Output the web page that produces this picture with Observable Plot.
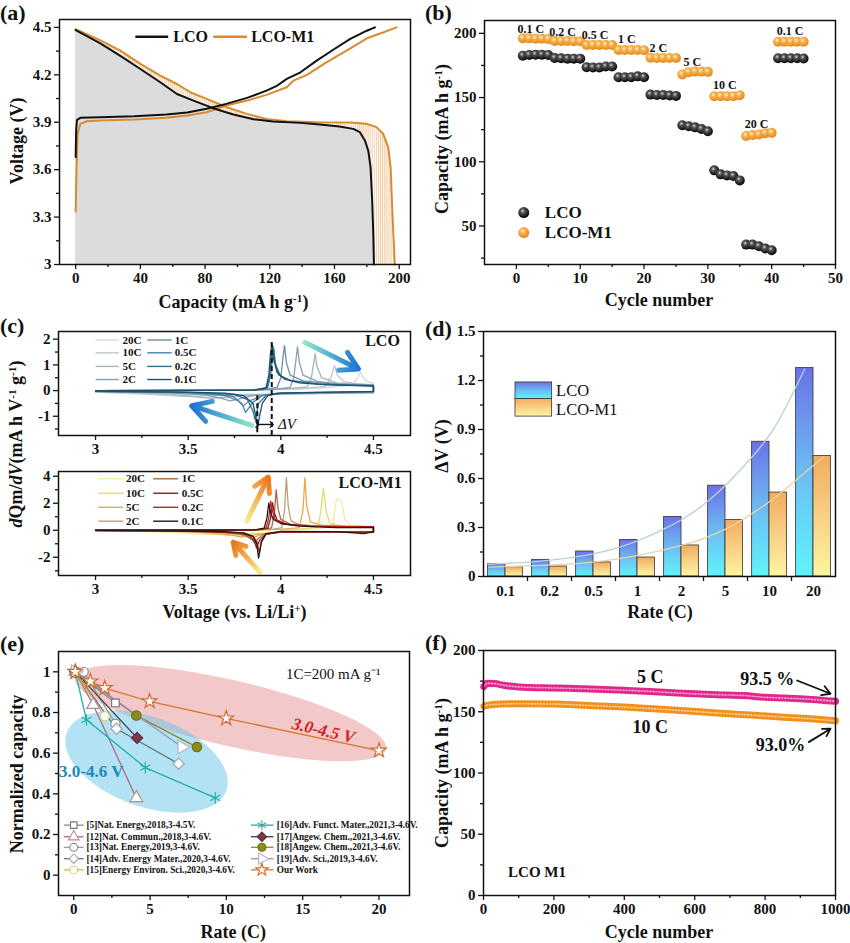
<!DOCTYPE html>
<html><head><meta charset="utf-8">
<script src="https://cdn.jsdelivr.net/npm/d3@7"></script>
<script src="https://cdn.jsdelivr.net/npm/@observablehq/plot@0.6"></script>
<style>
body{margin:0;background:#fff;}
#root{position:relative;width:850px;height:943px;overflow:hidden;font-family:"Liberation Serif","Times New Roman",serif;color:#111;}
.p{position:absolute;}
.p svg{background:transparent !important;overflow:visible;}
.lab{position:absolute;font-weight:bold;font-size:18px;white-space:nowrap;transform:translate(-50%,-50%);line-height:1;}
.ylab{transform:translate(-50%,-50%) rotate(-90deg);}
.let{position:absolute;font-weight:bold;font-size:22px;line-height:1;}
sup{font-size:0.62em;vertical-align:0.55em;line-height:0;}
</style></head><body>
<svg width="0" height="0" style="position:absolute">
<defs>
<linearGradient id="gBlue" x1="0" y1="0" x2="0" y2="1"><stop offset="0" stop-color="#6b72e6"/><stop offset="0.55" stop-color="#6cc2f4"/><stop offset="1" stop-color="#5ef4fb"/></linearGradient>
<linearGradient id="gOrange" x1="0" y1="0" x2="0" y2="1"><stop offset="0" stop-color="#f3ab5e"/><stop offset="0.5" stop-color="#f8d085"/><stop offset="1" stop-color="#fff6a0"/></linearGradient>
<radialGradient id="ballK" cx="0.4" cy="0.35" r="0.65"><stop offset="0" stop-color="#d8d8d8"/><stop offset="0.3" stop-color="#555"/><stop offset="1" stop-color="#050505"/></radialGradient>
<radialGradient id="ballO" cx="0.4" cy="0.35" r="0.65"><stop offset="0" stop-color="#fff1cc"/><stop offset="0.35" stop-color="#f8b250"/><stop offset="1" stop-color="#e4861a"/></radialGradient>
<pattern id="hatchA" width="2.1" height="8" patternUnits="userSpaceOnUse"><line x1="0.6" y1="0" x2="0.6" y2="8" stroke="#e1a457" stroke-width="0.7"/></pattern>
<linearGradient id="arrB1" x1="0" y1="0" x2="1" y2="0"><stop offset="0" stop-color="#8ae8c8"/><stop offset="1" stop-color="#1f72d8"/></linearGradient>
<linearGradient id="arrB2" x1="1" y1="0" x2="0" y2="0"><stop offset="0" stop-color="#8ae8c8"/><stop offset="1" stop-color="#1f72d8"/></linearGradient>
<linearGradient id="arrO1" x1="0" y1="1" x2="1" y2="0"><stop offset="0" stop-color="#f8ec90"/><stop offset="1" stop-color="#ee7418"/></linearGradient>
<linearGradient id="arrO2" x1="1" y1="1" x2="0" y2="0"><stop offset="0" stop-color="#f8ec90"/><stop offset="1" stop-color="#ee7418"/></linearGradient>
</defs></svg>
<div id="root"></div>
<script>
// ================= DATA =================
// (a) charge / discharge profiles [capacity, voltage]
const aLcoCharge = [[0,3.68],[0.3,3.85],[0.8,3.915],[2.9,3.928],[15,3.932],[36,3.938],[56,3.949],[69,3.961],[81,3.985],[93,4.016],[106,4.054],[118,4.10],[124,4.128],[130.5,4.174],[139,4.216],[149,4.29],[159,4.357],[169.5,4.426],[180,4.479],[185,4.5]];
const aLcoDischarge = [[0,4.483],[15,4.40],[27.6,4.32],[40,4.237],[52.3,4.153],[62.6,4.079],[72.8,4.037],[85,3.989],[97.5,3.949],[110,3.919],[122,3.905],[139,3.896],[151,3.886],[163,3.873],[171.6,3.858],[175.7,3.837],[178.8,3.785],[180.9,3.72],[182.3,3.616],[183.3,3.406],[184,3.195],[184.4,3.0]];
const aM1Charge = [[0,3.336],[0.5,3.6],[1.2,3.827],[2.9,3.89],[7,3.907],[15,3.911],[36,3.917],[56,3.928],[69,3.942],[81,3.963],[93,4.006],[106,4.037],[118,4.073],[130.5,4.121],[134.6,4.163],[143,4.20],[155,4.279],[167.5,4.353],[180,4.431],[190,4.468],[198.4,4.5]];
const aM1Discharge = [[0,4.489],[15,4.42],[27.6,4.353],[40,4.269],[52.3,4.195],[62.6,4.142],[70.8,4.09],[81,4.048],[93.4,3.995],[105.8,3.953],[118,3.921],[130.5,3.907],[149,3.9],[169.5,3.898],[179.8,3.89],[186,3.869],[190.1,3.827],[193.2,3.743],[194.7,3.616],[195.9,3.3],[197.3,3.0]];

// (b) rate capability
const bCycles = d3.range(1, 46);
const bLco = [182.6,183.2,183.4,183.4,183.2, 180.8,180.6,180.3,180.3,180.3, 173.6,173.4,173.4,174.2,174.2, 165.8,165.8,165.8,166.5,165.8, 152.3,152.0,152.0,151.6,151.3, 128.5,127.6,126.8,125.5,123.7, 93.3,90.2,89.4,88.9,85.5, 35.5,35.5,34.2,32.4,31.1, 180.6,180.6,180.6,180.6,180.4];
const bM1 = [196.1,196.1,195.8,195.8,195.6, 194.0,194.0,194.0,193.8,193.8, 190.9,190.9,190.9,190.9,190.9, 187.0,187.0,187.0,187.0,186.8, 181.0,180.8,180.8,180.8,180.8, 168.0,169.8,170.2,170.2,170.0, 151.0,151.0,151.0,151.0,151.8, 120.0,120.8,121.2,122.3,122.5, 193.5,193.5,193.5,193.5,193.4];
const bRateLabels = ["0.1 C","0.2 C","0.5 C","1 C","2 C","5 C","10 C","20 C","0.1 C"];
const bRateLabelAt = [[2.25,203.6],[7.24,200.8],[12.33,198.4],[17.3,195.1],[22.25,188.3],[27.56,177.2],[32.65,159.9],[37.64,129],[42.9,201.6]];

// (c) dQ/dV curves [voltage, dQm/dV]  (charge branch then discharge branch)
const cRates = ["20C","10C","5C","2C","1C","0.5C","0.2C","0.1C"];
const cLco20 = [[3.0,0],[3.9,0.03],[4.2,0.09],[4.38,0.2],[4.41,0.45],[4.43,0.72],[4.445,0.5],[4.47,0.33],[4.5,0.28],[4.5,-0.1],[4.2,-0.12],[3.9,-0.14],[3.6,-0.16],[3.3,-0.15],[3.15,-0.12],[3.0,-0.06]];
const cLco10 = [[3.0,0],[3.8,0.02],[4.1,0.07],[4.24,0.16],[4.27,0.5],[4.29,0.97],[4.305,0.6],[4.34,0.35],[4.42,0.26],[4.5,0.22],[4.5,-0.09],[4.2,-0.12],[3.9,-0.15],[3.7,-0.19],[3.55,-0.22],[3.465,-0.23],[3.35,-0.18],[3.2,-0.1],[3.0,-0.05]];
const cLco5 = [[3.0,0],[3.7,0.01],[4.0,0.05],[4.14,0.14],[4.165,0.5],[4.178,1.1],[4.185,1.45],[4.195,0.95],[4.22,0.5],[4.3,0.3],[4.5,0.22],[4.5,-0.08],[4.2,-0.11],[3.95,-0.14],[3.8,-0.2],[3.68,-0.27],[3.63,-0.3],[3.55,-0.25],[3.4,-0.14],[3.2,-0.07],[3.0,-0.04]];
const cLco2 = [[3.0,0],[3.6,0.01],[3.95,0.04],[4.05,0.12],[4.07,0.5],[4.082,1.2],[4.09,1.7],[4.1,1.1],[4.12,0.6],[4.2,0.35],[4.35,0.24],[4.5,0.2],[4.5,-0.07],[4.2,-0.1],[4.0,-0.13],[3.85,-0.2],[3.77,-0.33],[3.725,-0.4],[3.69,-0.32],[3.6,-0.18],[3.4,-0.09],[3.0,-0.04]];
const cLco1 = [[3.0,0],[3.6,0.01],[3.9,0.03],[3.98,0.12],[4.0,0.5],[4.012,1.3],[4.02,1.75],[4.03,1.1],[4.05,0.6],[4.12,0.38],[4.3,0.24],[4.5,0.2],[4.5,-0.06],[4.2,-0.09],[4.0,-0.12],[3.9,-0.2],[3.83,-0.4],[3.796,-0.6],[3.77,-0.4],[3.7,-0.2],[3.5,-0.09],[3.2,-0.05],[3.0,-0.03]];
const cLco05 = [[3.0,0],[3.5,0.01],[3.87,0.03],[3.93,0.12],[3.945,0.6],[3.955,1.3],[3.962,1.65],[3.972,1.0],[4.0,0.55],[4.06,0.38],[4.2,0.26],[4.5,0.19],[4.5,-0.05],[4.2,-0.08],[4.0,-0.11],[3.9,-0.2],[3.85,-0.45],[3.81,-0.85],[3.79,-0.5],[3.74,-0.22],[3.6,-0.1],[3.3,-0.05],[3.0,-0.03]];
const cLco02 = [[3.0,0],[3.5,0.01],[3.86,0.02],[3.925,0.1],[3.94,0.6],[3.95,1.4],[3.957,1.75],[3.967,1.1],[3.99,0.6],[4.05,0.4],[4.2,0.25],[4.5,0.18],[4.5,-0.04],[4.2,-0.07],[4.0,-0.1],[3.92,-0.2],[3.88,-0.5],[3.862,-1.15],[3.85,-0.8],[3.82,-0.35],[3.75,-0.15],[3.5,-0.07],[3.0,-0.03]];
const cLco01 = [[3.0,0],[3.5,0.01],[3.85,0.02],[3.92,0.1],[3.935,0.6],[3.945,1.5],[3.952,1.8],[3.962,1.2],[3.98,0.7],[4.02,0.45],[4.1,0.3],[4.25,0.22],[4.5,0.17],[4.5,-0.03],[4.3,-0.06],[4.1,-0.08],[3.98,-0.1],[3.93,-0.2],[3.9,-0.5],[3.885,-1.0],[3.875,-1.45],[3.865,-1.0],[3.85,-0.5],[3.8,-0.2],[3.7,-0.1],[3.5,-0.06],[3.0,-0.02]];
const cM120 = [[3.0,0],[3.9,0.04],[4.2,0.1],[4.28,0.3],[4.292,1.5],[4.3,2.3],[4.32,2.25],[4.33,2.1],[4.345,0.8],[4.37,0.4],[4.45,0.3],[4.5,0.28],[4.5,-0.18],[4.3,-0.16],[4.0,-0.17],[3.8,-0.24],[3.65,-0.3],[3.572,-0.3],[3.48,-0.22],[3.3,-0.1],[3.0,-0.03]];
const cM110 = [[3.0,0],[3.8,0.03],[4.1,0.08],[4.2,0.22],[4.215,1.3],[4.23,3.1],[4.245,1.4],[4.265,0.5],[4.33,0.32],[4.5,0.27],[4.5,-0.17],[4.3,-0.15],[4.0,-0.16],[3.85,-0.27],[3.76,-0.36],[3.716,-0.38],[3.65,-0.3],[3.55,-0.18],[3.35,-0.07],[3.0,-0.02]];
const cM15 = [[3.0,0],[3.7,0.02],[4.0,0.06],[4.1,0.2],[4.12,1.5],[4.13,3.9],[4.14,1.8],[4.16,0.6],[4.22,0.38],[4.35,0.28],[4.5,0.26],[4.5,-0.16],[4.3,-0.14],[4.0,-0.15],[3.88,-0.3],[3.81,-0.45],[3.784,-0.5],[3.75,-0.4],[3.68,-0.25],[3.55,-0.12],[3.3,-0.05],[3.0,-0.02]];
const cM12 = [[3.0,0],[3.6,0.01],[3.95,0.05],[4.005,0.2],[4.02,1.5],[4.03,3.9],[4.04,1.8],[4.055,0.7],[4.1,0.4],[4.25,0.28],[4.5,0.26],[4.5,-0.15],[4.3,-0.13],[4.0,-0.14],[3.9,-0.28],[3.86,-0.5],[3.84,-0.7],[3.82,-0.5],[3.77,-0.28],[3.65,-0.14],[3.4,-0.06],[3.0,-0.02]];
const cM11 = [[3.0,0],[3.6,0.01],[3.9,0.04],[3.95,0.18],[3.965,1.2],[3.975,3.0],[3.985,1.6],[4.0,0.8],[4.05,0.45],[4.2,0.3],[4.5,0.26],[4.5,-0.14],[4.3,-0.12],[4.0,-0.13],[3.91,-0.3],[3.875,-0.65],[3.859,-0.95],[3.84,-0.6],[3.8,-0.32],[3.7,-0.16],[3.5,-0.08],[3.0,-0.02]];
const cM105 = [[3.0,0],[3.5,0.01],[3.88,0.04],[3.93,0.15],[3.945,0.9],[3.955,2.05],[3.965,1.3],[3.98,0.75],[4.03,0.45],[4.15,0.3],[4.5,0.25],[4.5,-0.13],[4.3,-0.11],[4.0,-0.12],[3.92,-0.3],[3.885,-0.75],[3.869,-1.3],[3.855,-0.75],[3.83,-0.4],[3.78,-0.22],[3.6,-0.1],[3.3,-0.05],[3.0,-0.02]];
const cM102 = [[3.0,0],[3.5,0.01],[3.87,0.03],[3.92,0.15],[3.935,0.9],[3.945,2.15],[3.955,1.4],[3.97,0.8],[4.02,0.45],[4.15,0.28],[4.5,0.24],[4.5,-0.12],[4.3,-0.1],[4.0,-0.1],[3.92,-0.3],[3.895,-0.8],[3.884,-1.7],[3.872,-0.9],[3.85,-0.45],[3.8,-0.22],[3.65,-0.1],[3.3,-0.04],[3.0,-0.01]];
const cM101 = [[3.0,0],[3.5,0.01],[3.86,0.03],[3.91,0.15],[3.925,0.9],[3.935,2.0],[3.945,1.3],[3.96,0.8],[4.0,0.5],[4.1,0.3],[4.3,0.2],[4.5,0.22],[4.5,-0.1],[4.45,-0.25],[4.3,-0.1],[4.0,-0.08],[3.92,-0.25],[3.895,-0.9],[3.88,-2.07],[3.87,-1.0],[3.85,-0.45],[3.8,-0.2],[3.7,-0.1],[3.4,-0.04],[3.0,-0.01]];
const cLcoCurves = [cLco20,cLco10,cLco5,cLco2,cLco1,cLco05,cLco02,cLco01];
const cM1Curves = [cM120,cM110,cM15,cM12,cM11,cM105,cM102,cM101];

// (d) voltage hysteresis
const dRates = ["0.1","0.2","0.5","1","2","5","10","20"];
const dLco = [0.077,0.102,0.153,0.224,0.365,0.556,0.825,1.276];
const dM1 = [0.057,0.061,0.086,0.116,0.19,0.346,0.514,0.738];
const dLcoFit = [[-0.4,0.075],[0.6,0.09],[1.6,0.12],[2.6,0.18],[3.6,0.29],[4.6,0.46],[5.6,0.73],[6.2,0.95],[6.8,1.27]];
const dM1Fit = [[-0.38,0.057],[1,0.07],[2,0.088],[2.99,0.128],[4,0.19],[5,0.29],[5.98,0.455],[6.6,0.59],[7.23,0.73]];

// (e) literature comparison [rate, normalized capacity]
const e5 = [[0.1,1.0],[2.73,0.847]];
const e12 = [[0.1,1.0],[1.27,0.838],[4.1,0.38]];
const e13 = [[0.1,1.0],[0.65,1.0],[2.73,0.745]];
const e14 = [[0.1,1.0],[2.8,0.72],[6.87,0.548]];
const e15 = [[0.1,1.0],[2.03,0.781]];
const e16 = [[0.1,1.0],[0.83,0.764],[4.69,0.529],[9.27,0.38]];
const e17 = [[0.1,1.0],[4.15,0.675]];
const e18 = [[0.1,1.0],[4.1,0.785],[8.07,0.63]];
const e19 = [[0.1,1.0],[7.09,0.63]];
const eOur = [[0.1,1.0],[1.09,0.953],[2.03,0.92],[4.97,0.855],[9.99,0.771],[20,0.613]];
const eNames = ["[5]Nat. Energy,2018,3-4.5V.","[12]Nat. Commun.,2018,3-4.6V.","[13]Nat. Energy,2019,3-4.6V.","[14]Adv. Energy Mater.,2020,3-4.6V.","[15]Energy Environ. Sci.,2020,3-4.6V.","[16]Adv. Funct. Mater.,2021,3-4.6V.","[17]Angew. Chem.,2021,3-4.6V.","[18]Angew. Chem.,2021,3-4.6V.","[19]Adv. Sci.,2019,3-4.6V.","Our Work"];

// (f) long cycling [cycle, capacity]
const f5C = [[1,170.5],[10,173.2],[30,173],[60,171.5],[100,170.3],[200,169.4],[283,168.8],[400,167.5],[473,166.6],[550,165.3],[663,163.9],[740,163.2],[800,161.8],[852,161.2],[920,160.3],[1000,158.5]];
const f10C = [[1,154.5],[20,155.8],[94,156.5],[200,156.3],[283,155.3],[400,153.8],[473,152.6],[550,151.2],[663,149],[760,147.3],[852,145.6],[920,144.4],[1000,142.6]];

// ================= HELPERS =================
const root = document.getElementById("root");
function place(node, left, top) { const d = document.createElement("div"); d.className = "p"; d.style.left = left + "px"; d.style.top = top + "px"; d.appendChild(node); root.appendChild(d); }
const STYLE = "font-family:'Liberation Serif','Times New Roman',serif;font-size:15px;font-weight:bold;color:#111;background:transparent;overflow:visible;";
const P = {x: d => d[0], y: d => d[1]};
const fmt = d => String(d);
function axes(o) {
  const m = [];
  if (o.x) m.push(Plot.axisX({ticks: o.x, tickSize: o.xSize ?? 5, tickPadding: o.xPad ?? 3, tickFormat: o.xf ?? fmt, label: null, strokeWidth: 1.3}));
  if (o.xm) m.push(Plot.axisX({ticks: o.xm, tickSize: o.xmSize ?? 3, tickPadding: 0, tickFormat: () => "", label: null, strokeWidth: 1.3}));
  if (o.y) m.push(Plot.axisY({ticks: o.y, tickSize: 5, tickPadding: 3, tickFormat: o.yf ?? fmt, label: null, strokeWidth: 1.3}));
  if (o.ym) m.push(Plot.axisY({ticks: o.ym, tickSize: 3, tickPadding: 0, tickFormat: () => "", label: null, strokeWidth: 1.3}));
  return m;
}
const frame = () => Plot.frame({stroke: "#111", strokeWidth: 1.5});

// ================= (a) =================
const ORA = "#d98b2f";
const aLegend = [{label: "LCO", color: "#111", x1: 36.9, x2: 57.2, tx: 60.3, y: 4.441}, {label: "LCO-M1", color: ORA, x1: 85, x2: 105.9, tx: 108.5, y: 4.441}];
place(Plot.plot({
  width: 425, height: 310, marginLeft: 59, marginRight: 15, marginTop: 19, marginBottom: 46, style: STYLE,
  x: {domain: [-10, 207]}, y: {domain: [3, 4.55]},
  marks: [
    Plot.areaY(aM1Discharge, {x: d => d[0], y1: 3, y2: d => d[1], fill: "url(#hatchA)"}),
    Plot.areaY(aLcoDischarge, {x: d => d[0], y1: 3, y2: d => d[1], fill: "#dcdcdc"}),
    Plot.line(aM1Charge, {...P, stroke: ORA, strokeWidth: 2}),
    Plot.line(aM1Discharge, {...P, stroke: ORA, strokeWidth: 2}),
    Plot.line(aLcoCharge, {...P, stroke: "#111", strokeWidth: 2}),
    Plot.line(aLcoDischarge, {...P, stroke: "#111", strokeWidth: 2}),
    ...aLegend.map(l => Plot.link([l], {x1: "x1", x2: "x2", y1: "y", y2: "y", stroke: l.color, strokeWidth: 2.5})),
    ...aLegend.map(l => Plot.text([l], {x: "tx", y: "y", text: "label", textAnchor: "start", fontSize: 16})),
    frame(),
    ...axes({x: [0,40,80,120,160,200], xm: [20,60,100,140,180], y: [3,3.3,3.6,3.9,4.2,4.5], ym: [3.15,3.45,3.75,4.05,4.35]})
  ]
}), 0, 0);

// ================= (b) =================
const bRows = (vals) => vals.map((v, i) => ({c: bCycles[i], v}));
place(Plot.plot({
  width: 425, height: 310, marginLeft: 59, marginRight: 15, marginTop: 20, marginBottom: 46, style: STYLE,
  x: {domain: [-5, 50]}, y: {domain: [20, 210]},
  marks: [
    Plot.dot(bRows(bLco), {x: "c", y: "v", r: 5, fill: "url(#ballK)"}),
    Plot.dot(bRows(bM1), {x: "c", y: "v", r: 5, fill: "url(#ballO)"}),
    Plot.text(bRateLabels, {x: (d, i) => bRateLabelAt[i][0], y: (d, i) => bRateLabelAt[i][1], text: d => d, fontSize: 12}),
    Plot.dot([[1.15, 60.4]], {...P, r: 5.5, fill: "url(#ballK)"}),
    Plot.dot([[1.15, 44.9]], {...P, r: 5.5, fill: "url(#ballO)"}),
    Plot.text(["LCO"], {x: 4.46, y: 60.4, text: d => d, textAnchor: "start", fontSize: 17}),
    Plot.text(["LCO-M1"], {x: 4.46, y: 44.9, text: d => d, textAnchor: "start", fontSize: 17}),
    frame(),
    ...axes({x: [0,10,20,30,40,50], xm: [5,15,25,35,45], y: [50,100,150,200], ym: [25,75,125,175]})
  ]
}), 425, 0);

// ================= (c) =================
const cLcoColors = ["#d4dbe0","#bfc9d0","#a7b5bf","#8aa0ae","#6c8ea4","#3d86b3","#2f6f8f","#1f4f6a"];
const cM1Colors = ["#f3ee9e","#e4dc6a","#eea848","#bf9f78","#b0683c","#7a2424","#cc1e1e","#2a1414"];
function cLegend(colors, cols, rows) {
  const m = [];
  cRates.forEach((r, k) => {
    const col = cols[k < 4 ? 0 : 1], y = rows[k % 4];
    m.push(Plot.link([r], {x1: col[0], x2: col[1], y1: y, y2: y, stroke: colors[k], strokeWidth: 1.4}));
    m.push(Plot.text([r], {x: col[2], y: y, text: d => d, textAnchor: "start", fontSize: 11}));
  });
  return m;
}
place(Plot.plot({
  width: 425, height: 150, marginLeft: 58, marginRight: 15, marginTop: 21, marginBottom: 25, style: STYLE,
  x: {domain: [2.8, 4.7]}, y: {domain: [-1.75, 2.3]},
  marks: [
    ...cLcoCurves.map((c, k) => Plot.line(c, {...P, stroke: cLcoColors[k], strokeWidth: 1.3})),
    Plot.arrow([{x1: 4.131, y1: 1.87, x2: 4.419, y2: 0.84}], {x1: "x1", y1: "y1", x2: "x2", y2: "y2", stroke: "url(#arrB1)", strokeWidth: 5, headLength: 14}),
    Plot.arrow([{x1: 3.843, y1: -1.36, x2: 3.519, y2: -0.59}], {x1: "x1", y1: "y1", x2: "x2", y2: "y2", stroke: "url(#arrB2)", strokeWidth: 5, headLength: 14}),
    Plot.ruleX([{x: 3.951, y1: 1.87, y2: -1.75}, {x: 3.873, y1: -0.2, y2: -1.75}], {x: "x", y1: "y1", y2: "y2", stroke: "#111", strokeWidth: 2, strokeDasharray: "5,3"}),
    Plot.link([{x1: 3.873, x2: 3.951, y: -1.32}], {x1: "x1", x2: "x2", y1: "y", y2: "y", stroke: "#111", strokeWidth: 1.4, markerStart: "arrow", markerEnd: "arrow"}),
    Plot.text(["ΔV"], {x: 3.985, y: -1.32, text: d => d, textAnchor: "start", fontSize: 15, fontWeight: "normal", fontStyle: "italic"}),
    Plot.text(["LCO"], {x: 4.549, y: 1.93, text: d => d, fontSize: 16}),
    ...cLegend(cLcoColors, [[3.0, 3.126, 3.146], [3.279, 3.411, 3.428]], [1.97, 1.47, 0.94, 0.43]),
    frame(),
    ...axes({x: [3,3.5,4,4.5], xm: [3.25,3.75,4.25], y: [-1,0,1,2], ym: [-1.5,-0.5,0.5,1.5]})
  ]
}), 0, 310);
place(Plot.plot({
  width: 425, height: 140, marginLeft: 58, marginRight: 15, marginTop: 11, marginBottom: 25, style: STYLE,
  x: {domain: [2.8, 4.7]}, y: {domain: [-3.35, 4.35]},
  marks: [
    ...cM1Curves.map((c, k) => Plot.line(c, {...P, stroke: cM1Colors[k], strokeWidth: 1.3})),
    Plot.arrow([{x1: 3.816, y1: 0.67, x2: 3.932, y2: 3.93}], {x1: "x1", y1: "y1", x2: "x2", y2: "y2", stroke: "url(#arrO1)", strokeWidth: 5, headLength: 14}),
    Plot.arrow([{x1: 3.888, y1: -3.11, x2: 3.743, y2: -0.89}], {x1: "x1", y1: "y1", x2: "x2", y2: "y2", stroke: "url(#arrO2)", strokeWidth: 5, headLength: 14}),
    Plot.text(["LCO-M1"], {x: 4.482, y: 3.51, text: d => d, fontSize: 16}),
    ...cLegend(cM1Colors, [[3.014, 3.149, 3.164], [3.311, 3.446, 3.465]], [3.81, 2.74, 1.70, 0.67]),
    frame(),
    ...axes({x: [3,3.5,4,4.5], xm: [3.25,3.75,4.25], y: [-2,0,2,4], ym: [-3,-1,1,3]})
  ]
}), 0, 460);

// ================= (d) =================
place(Plot.plot({
  width: 425, height: 330, marginLeft: 58, marginRight: 15, marginTop: 21, marginBottom: 64, style: STYLE,
  x: {domain: [-0.5, 7.5]}, y: {domain: [0, 1.5]},
  marks: [
    Plot.rect(dLco, {x1: (d, i) => i - 0.395, x2: (d, i) => i, y1: 0, y2: d => d, fill: "url(#gBlue)", stroke: "#333", strokeWidth: 0.8}),
    Plot.rect(dM1, {x1: (d, i) => i, x2: (d, i) => i + 0.395, y1: 0, y2: d => d, fill: "url(#gOrange)", stroke: "#333", strokeWidth: 0.8}),
    Plot.line(dLcoFit, {...P, stroke: "#b9d2d4", strokeWidth: 1.3, curve: "natural"}),
    Plot.line(dM1Fit, {...P, stroke: "#e6d3aa", strokeWidth: 1.3, curve: "natural"}),
    Plot.rect([0], {x1: 0.227, x2: 1.06, y1: 1.087, y2: 1.188, fill: "url(#gBlue)", stroke: "#333", strokeWidth: 0.8}),
    Plot.rect([0], {x1: 0.227, x2: 1.06, y1: 0.979, y2: 1.087, fill: "url(#gOrange)", stroke: "#333", strokeWidth: 0.8}),
    Plot.text(["LCO"], {x: 1.15, y: 1.14, text: d => d, textAnchor: "start", fontSize: 16.5, fontWeight: "normal"}),
    Plot.text(["LCO-M1"], {x: 1.15, y: 1.022, text: d => d, textAnchor: "start", fontSize: 16.5, fontWeight: "normal"}),
    frame(),
    ...axes({x: [0,1,2,3,4,5,6,7], xSize: 0, xPad: 9, xf: i => dRates[i], xm: [0.5,1.5,2.5,3.5,4.5,5.5,6.5], xmSize: 5, y: [0,0.3,0.6,0.9,1.2,1.5], ym: [0.15,0.45,0.75,1.05,1.35]})
  ]
}), 425, 310);

// ================= (e) =================
const eData = [e5, e12, e13, e14, e15, e16, e17, e18, e19, eOur];
const eStyle = [
  {symbol: "square", line: "#8c8c8c", stroke: "#777", fill: "white", r: 4.3},
  {symbol: "triangle", line: "#a8707e", stroke: "#b58a94", fill: "white", r: 4.7},
  {symbol: "circle", line: "#9a9a9a", stroke: "#8a8a8a", fill: "white", r: 4.6},
  {symbol: "diamond2", line: "#5f7474", stroke: "#a0a8a8", fill: "white", r: 5},
  {symbol: "circle", line: "#c8c040", stroke: "#d8d070", fill: "white", r: 4.6},
  {symbol: "asterisk", line: "#22b0a2", stroke: "#22b0a2", fill: "none", r: 5.5},
  {symbol: "diamond2", line: "#3a3a48", stroke: "#5a2a3a", fill: "#7a3a4a", r: 5},
  {symbol: "circle", line: "#8a8a2a", stroke: "#6e6e10", fill: "#8c8c1e", r: 4.7},
  {symbol: "triangle", line: "#9890c0", stroke: "#b8b0d8", fill: "white", r: 5, rotate: 90},
  {symbol: "star", line: "#d87830", stroke: "#d06a2a", fill: "white", r: 4.6}
];
const eEllipses = [
  {x1: 0.1, y1: 0.971, x2: 20.5, y2: 0.618, hw: 0.1615, fill: "#e89a9a", op: 0.55},
  {x1: -0.43, y1: 0.698, x2: 10.03, y2: 0.414, hw: 0.22, fill: "#66c6ea", op: 0.5}
];
const eLegCols = [{lx1: -0.65, lx2: 0.65, mx: 0, tx: 0.83}, {lx1: 11.61, lx2: 13.09, mx: 12.33, tx: 13.3}];
const eLegRows = [0.246, 0.189, 0.137, 0.081, 0.026];
const eMarks = [];
eData.forEach((data, k) => {
  const s = eStyle[k];
  eMarks.push(Plot.line(data, {...P, stroke: s.line, strokeWidth: 1.3}));
});
eData.forEach((data, k) => {
  const s = eStyle[k];
  eMarks.push(Plot.dot(data, {...P, symbol: s.symbol, r: s.r, fill: s.fill, stroke: s.stroke, strokeWidth: 1.2, rotate: s.rotate ?? 0}));
});
const eLegMarks = [];
eNames.forEach((name, k) => {
  const s = eStyle[k], col = eLegCols[k < 5 ? 0 : 1], y = eLegRows[k % 5];
  eLegMarks.push(Plot.link([name], {x1: col.lx1, x2: col.lx2, y1: y, y2: y, stroke: s.line, strokeWidth: 1.3}));
  eLegMarks.push(Plot.dot([name], {x: col.mx, y: y, symbol: s.symbol, r: s.r * 0.85, fill: s.fill, stroke: s.stroke, strokeWidth: 1.1, rotate: s.rotate ?? 0}));
  eLegMarks.push(Plot.text([name], {x: col.tx, y: y, text: d => d, textAnchor: "start", fontSize: 9.3}));
});
place(Plot.plot({
  width: 425, height: 323, marginLeft: 58, marginRight: 16, marginTop: 31, marginBottom: 48, style: STYLE,
  x: {domain: [-1, 22]}, y: {domain: [-0.1, 1.1]},
  marks: [
    (index, scales) => {
      const {x, y} = scales;
      const g = d3.create("svg:g");
      for (const e of eEllipses) {
        const X1 = x(e.x1), Y1 = y(e.y1), X2 = x(e.x2), Y2 = y(e.y2);
        const cx = (X1 + X2) / 2, cy = (Y1 + Y2) / 2;
        const a = Math.hypot(X2 - X1, Y2 - Y1) / 2;
        const b = Math.abs(y(0) - y(e.hw));
        const ang = Math.atan2(Y2 - Y1, X2 - X1) * 180 / Math.PI;
        g.append("ellipse").attr("cx", cx).attr("cy", cy).attr("rx", a).attr("ry", b)
          .attr("transform", `rotate(${ang},${cx},${cy})`).attr("fill", e.fill).attr("fill-opacity", e.op);
      }
      return g.node();
    },
    ...eMarks,
    Plot.text(["1C=200 mA g⁻¹"], {x: 17.0, y: 0.989, text: d => d, fontSize: 15, fontWeight: "normal"}),
    Plot.text(["3.0-4.5 V"], {x: 16.36, y: 0.711, text: d => d, fontSize: 17, fill: "#d42020", fontStyle: "italic", rotate: 13}),
    Plot.text(["3.0-4.6 V"], {x: 1.15, y: 0.512, text: d => d, fontSize: 17, fill: "#1a8ab8"}),
    ...eLegMarks,
    frame(),
    ...axes({x: [0,5,10,15,20], xm: [2.5,7.5,12.5,17.5], y: [0,0.2,0.4,0.6,0.8,1], ym: [0.1,0.3,0.5,0.7,0.9]})
  ]
}), 0, 620);

// ================= (f) =================
place(Plot.plot({
  width: 425, height: 323, marginLeft: 58, marginRight: 15, marginTop: 30, marginBottom: 48, style: STYLE,
  x: {domain: [0, 1000]}, y: {domain: [0, 200]},
  marks: [
    Plot.line(f5C, {...P, stroke: "#e0288c", strokeWidth: 7, curve: "monotone-x"}),
    Plot.line(f5C, {...P, stroke: "#f6a6d2", strokeWidth: 1.6, strokeDasharray: "1,2", curve: "monotone-x"}),
    Plot.line(f10C, {...P, stroke: "#f2901e", strokeWidth: 7, curve: "monotone-x"}),
    Plot.line(f10C, {...P, stroke: "#fcd08c", strokeWidth: 1.6, strokeDasharray: "1,2", curve: "monotone-x"}),
    Plot.text(["5 C"], {x: 474, y: 178.2, text: d => d, fontSize: 18}),
    Plot.text(["10 C"], {x: 474, y: 137.5, text: d => d, fontSize: 18}),
    Plot.text(["93.5 %"], {x: 806, y: 176.9, text: d => d, fontSize: 18}),
    Plot.text(["93.0%"], {x: 843.6, y: 122.5, text: d => d, fontSize: 18}),
    Plot.arrow([{x1: 891, y1: 175.5, x2: 986, y2: 164.7}, {x1: 924, y1: 125.2, x2: 986, y2: 136.2}], {x1: "x1", y1: "y1", x2: "x2", y2: "y2", stroke: "#111", strokeWidth: 1.8, headLength: 8}),
    Plot.text(["LCO M1"], {x: 152, y: 18.8, text: d => d, fontSize: 15}),
    frame(),
    ...axes({x: [0,200,400,600,800,1000], xm: [100,300,500,700,900], y: [0,50,100,150,200], ym: [25,75,125,175]})
  ]
}), 425, 620);

// ================= labels =================
const letters = [["(a)", 0, 2], ["(b)", 425, 2], ["(c)", 0, 315], ["(d)", 425, 318], ["(e)", 0, 633], ["(f)", 425, 632]];
for (const [t, l, tp] of letters) { const d = document.createElement("div"); d.className = "let"; d.style.left = l + "px"; d.style.top = tp + "px"; d.textContent = t; root.appendChild(d); }
const axisLabels = [
  ["Capacity (mA h g<sup>-1</sup>)", 233.5, 301.7, false],
  ["Voltage (V)", 16.7, 140.8, true],
  ["Cycle number", 659, 300, false],
  ["Capacity (mA h g<sup>-1</sup>)", 441.7, 139, true],
  ["<i>d</i>Qm/<i>dV</i>(mA h V<sup>-1</sup> g<sup>-1</sup>)", 15.5, 444, true],
  ["Voltage (vs. Li/Li<sup>+</sup>)", 234.5, 611.7, false],
  ["ΔV (V)", 441.7, 446, true],
  ["Rate (C)", 660, 611.7, false],
  ["Normalized capacity", 16.7, 774, true],
  ["Rate (C)", 233.3, 931.7, false],
  ["Capacity (mA h g<sup>-1</sup>)", 441.7, 772.5, true],
  ["Cycle number", 659, 931.7, false]
];
for (const [h, cx, cy, rot] of axisLabels) { const d = document.createElement("div"); d.className = "lab" + (rot ? " ylab" : ""); d.style.left = cx + "px"; d.style.top = cy + "px"; d.innerHTML = h; root.appendChild(d); }
</script></body></html>
